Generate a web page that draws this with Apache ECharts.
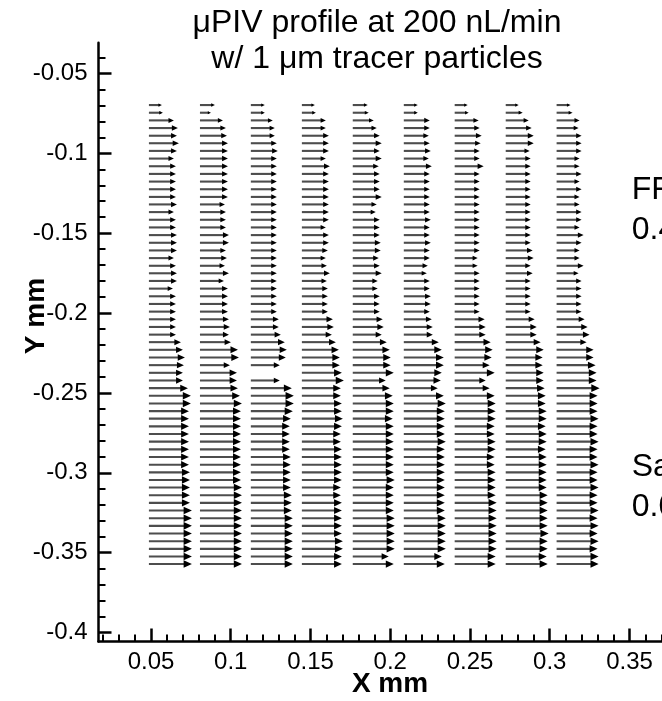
<!DOCTYPE html>
<html>
<head>
<meta charset="utf-8">
<script src="https://cdn.jsdelivr.net/npm/echarts@6/dist/echarts.min.js"></script>
<style>html,body{margin:0;padding:0;background:#fff}#c{width:662px;height:701px}</style>
</head>
<body>
<div id="c"></div>
<script>
// Column (x) positions of vector tails, mm
const COL_X = [0.0487, 0.0807, 0.1126, 0.1446, 0.1765, 0.2085, 0.2404, 0.2724, 0.3043];
// Row (y) positions, mm
const ROW_Y = [-0.0698, -0.0746, -0.0794, -0.0842, -0.0890, -0.0937, -0.0985, -0.1033, -0.1081, -0.1129,
  -0.1177, -0.1225, -0.1273, -0.1320, -0.1368, -0.1416, -0.1464, -0.1512, -0.1560, -0.1608,
  -0.1656, -0.1704, -0.1751, -0.1799, -0.1847, -0.1895, -0.1943, -0.1991, -0.2039, -0.2087,
  -0.2135, -0.2182, -0.2230, -0.2278, -0.2326, -0.2374, -0.2422, -0.2470, -0.2518, -0.2566,
  -0.2614, -0.2661, -0.2709, -0.2757, -0.2805, -0.2853, -0.2901, -0.2949, -0.2997, -0.3045,
  -0.3092, -0.3140, -0.3188, -0.3236, -0.3284, -0.3332, -0.3380, -0.3428, -0.3476, -0.3524, -0.3571];
// Vector magnitudes (arbitrary units) per column, top row to bottom row
const U1 = [13,14,25,29,28,30,28,25,27,27, 27,27,27,28,25,27,27,28,28,28, 25,27,28,28,24,27,27,27,27,27,
  27,32,34,36,35,34,34,39,42,42, 40,40,40,40,40,40,40,40,41,41, 41,41,41,43,43,43,43,43,43,43,43];
const U2 = [15,11,23,26,27,28,28,28,28,28, 28,28,28,25,26,26,26,29,29,26, 27,25,29,24,28,28,28,28,29,30,
  29,31,38,39,30,37,37,38,40,42, 41,41,41,41,41,41,41,41,41,41, 42,42,42,42,42,42,42,42,42,42,42];
const U3 = [14,14,22,24,24,26,27,26,26,26, 26,26,26,26,26,26,26,26,26,26, 26,26,26,26,26,26,26,26,28,28,
  30,34,36,35,29,null,29,41,43,43, 42,40,39,39,39,39,40,40,40,40, 40,41,41,41,42,42,42,42,42,42,42];
const U4 = [13,14,24,24,27,27,27,24,28,27, 27,27,27,27,27,27,24,27,27,26, 24,25,28,25,26,26,26,26,31,32,
  30,34,37,38,38,40,42,39,39,40, 40,41,40,39,39,40,40,40,40,40, 39,39,40,40,40,40,40,41,41,40,40];
const U5 = [15,16,21,24,27,29,27,29,26,27, 27,27,29,24,23,27,27,27,28,28, 26,27,29,25,25,27,27,27,30,31,
  29,34,37,38,38,41,33,37,40,41, 41,40,41,41,41,41,41,41,41,42, 41,41,41,41,42,42,42,42,42,36,41];
const U6 = [14,14,26,26,25,26,27,25,28,26, 26,26,26,26,26,27,26,26,27,26, 26,24,23,26,26,27,27,26,28,29,
  29,35,38,40,40,38,37,34,40,42, 41,41,41,41,42,41,41,41,41,41, 41,41,41,41,42,42,42,42,42,38,41];
const U7 = [13,14,24,25,27,26,25,25,29,25, 25,25,25,25,25,25,25,25,25,25, 23,23,25,25,25,25,25,25,30,31,
  31,36,38,37,35,40,31,35,40,41, 41,41,40,40,41,41,40,40,41,41, 41,41,42,42,42,42,42,42,42,41,41];
const U8 = [13,17,23,26,28,28,24,25,25,25, 25,25,25,25,25,25,25,25,25,27, 28,25,27,25,25,25,25,25,29,31,
  31,35,38,37,37,38,38,39,40,40, 41,41,40,41,41,40,41,41,41,41, 41,42,42,42,42,42,43,42,42,41,42];
const U9 = [14,16,23,22,25,25,25,23,23,25, 23,25,23,23,25,25,23,27,25,23, 23,27,22,25,25,25,25,25,28,31,
  33,30,37,37,39,40,40,43,41,41, 41,42,41,41,42,41,41,42,41,41, 42,41,41,42,41,42,41,42,41,42,42];
const COLUMNS = [U1, U2, U3, U4, U5, U6, U7, U8, U9];

// Axis tick values
const X_MAJOR = [0.05, 0.1, 0.15, 0.2, 0.25, 0.3, 0.35];
const X_MINOR = [0.02, 0.03, 0.04, 0.06, 0.07, 0.08, 0.09, 0.11, 0.12, 0.13, 0.14, 0.16, 0.17, 0.18, 0.19,
  0.21, 0.22, 0.23, 0.24, 0.26, 0.27, 0.28, 0.29, 0.31, 0.32, 0.33, 0.34, 0.36, 0.37, 0.38];
const Y_MAJOR = [-0.4, -0.35, -0.3, -0.25, -0.2, -0.15, -0.1, -0.05];
const Y_MINOR = [-0.04, -0.06, -0.07, -0.08, -0.09, -0.11, -0.12, -0.13, -0.14, -0.16, -0.17, -0.18, -0.19,
  -0.21, -0.22, -0.23, -0.24, -0.26, -0.27, -0.28, -0.29, -0.31, -0.32, -0.33, -0.34, -0.36, -0.37, -0.38, -0.39];

const VEC_SCALE = 1 / 1595; // mm of axis length per unit of magnitude

const data = [];
COLUMNS.forEach((col, c) => {
  col.forEach((u, r) => {
    if (u != null) data.push([COL_X[c], ROW_Y[r], u]);
  });
});

const FONT = '"Liberation Sans", Arial, Helvetica, sans-serif';
const chart = echarts.init(document.getElementById('c'), null, {renderer: 'canvas'});

function renderArrow(params, api) {
  const x0 = api.value(0), y0 = api.value(1), u = api.value(2);
  const p0 = api.coord([x0, y0]);
  const p1 = api.coord([x0 + u * VEC_SCALE, y0]);
  const len = p1[0] - p0[0];
  const hl = 0.16 * len + 1.4;
  const hw = hl * 0.46;
  return {
    type: 'group',
    children: [
      {type: 'line', shape: {x1: p0[0], y1: p0[1], x2: p1[0] - hl * 0.6, y2: p1[1]},
        style: {stroke: '#4d4d4d', lineWidth: 2.1}},
      {type: 'polygon', shape: {points: [[p1[0], p1[1]], [p1[0] - hl, p1[1] - hw], [p1[0] - hl, p1[1] + hw]]},
        style: {fill: '#000'}}
    ]
  };
}

const axisCommon = {
  type: 'value',
  splitLine: {show: false},
  axisLine: {show: true, onZero: false, lineStyle: {color: '#000', width: 2.5}},
};

chart.setOption({
  animation: false,
  backgroundColor: '#fff',
  title: {
    text: 'μPIV profile at 200 nL/min\nw/ 1 μm tracer particles',
    left: 372, top: 0, textAlign: 'center',
    textStyle: {fontFamily: FONT, fontSize: 32, fontWeight: 'normal', color: '#000', lineHeight: 36}
  },
  grid: {left: 98.5, top: 42.7, width: 583, height: 598.8, containLabel: false, outerBoundsMode: 'none'},
  xAxis: [
    Object.assign({}, axisCommon, {
      min: 0.01709, max: 0.38261, position: 'bottom',
      name: 'X mm', nameLocation: 'middle', nameGap: 29, nameMoveOverlap: false,
      nameTextStyle: {fontFamily: FONT, fontSize: 28, fontWeight: 'bold', color: '#000'},
      axisTick: {show: true, inside: true, length: 13, customValues: X_MAJOR, lineStyle: {color: '#000', width: 2.5}},
      axisLabel: {show: true, margin: 9, customValues: X_MAJOR, fontFamily: FONT, fontSize: 24, color: '#000',
        formatter: v => String(+v.toFixed(3))}
    }),
    Object.assign({}, axisCommon, {
      min: 0.01709, max: 0.38261, position: 'bottom',
      axisLine: {show: false},
      axisTick: {show: true, inside: true, length: 7, customValues: X_MINOR, lineStyle: {color: '#000', width: 2}},
      axisLabel: {show: false}
    })
  ],
  yAxis: [
    Object.assign({}, axisCommon, {
      min: -0.40558, max: -0.03077, position: 'left',
      name: 'Y mm', nameLocation: 'middle', nameGap: 48, nameRotate: 90, nameMoveOverlap: false,
      nameTextStyle: {fontFamily: FONT, fontSize: 28, fontWeight: 'bold', color: '#000', padding: [0, 0, 0, 52]},
      axisTick: {show: true, inside: true, length: 13, customValues: Y_MAJOR, lineStyle: {color: '#000', width: 2.5}},
      axisLabel: {show: true, margin: 11, customValues: Y_MAJOR, fontFamily: FONT, fontSize: 24, color: '#000',
        formatter: v => String(+v.toFixed(3))}
    }),
    Object.assign({}, axisCommon, {
      min: -0.40558, max: -0.03077, position: 'left',
      axisLine: {show: false},
      axisTick: {show: true, inside: true, length: 7, customValues: Y_MINOR, lineStyle: {color: '#000', width: 2}},
      axisLabel: {show: false}
    })
  ],
  graphic: [
    {type: 'text', left: 631.7, top: 170,
      style: {text: 'FF\n0.4', font: '32px ' + FONT, lineHeight: 40, fill: '#000'}},
    {type: 'text', left: 631.7, top: 447.5,
      style: {text: 'Sa\n0.0', font: '32px ' + FONT, lineHeight: 40, fill: '#000'}}
  ],
  series: [{
    type: 'custom',
    xAxisIndex: 0, yAxisIndex: 0,
    renderItem: renderArrow,
    data: data,
    clip: false
  }]
});
</script>
</body>
</html>
